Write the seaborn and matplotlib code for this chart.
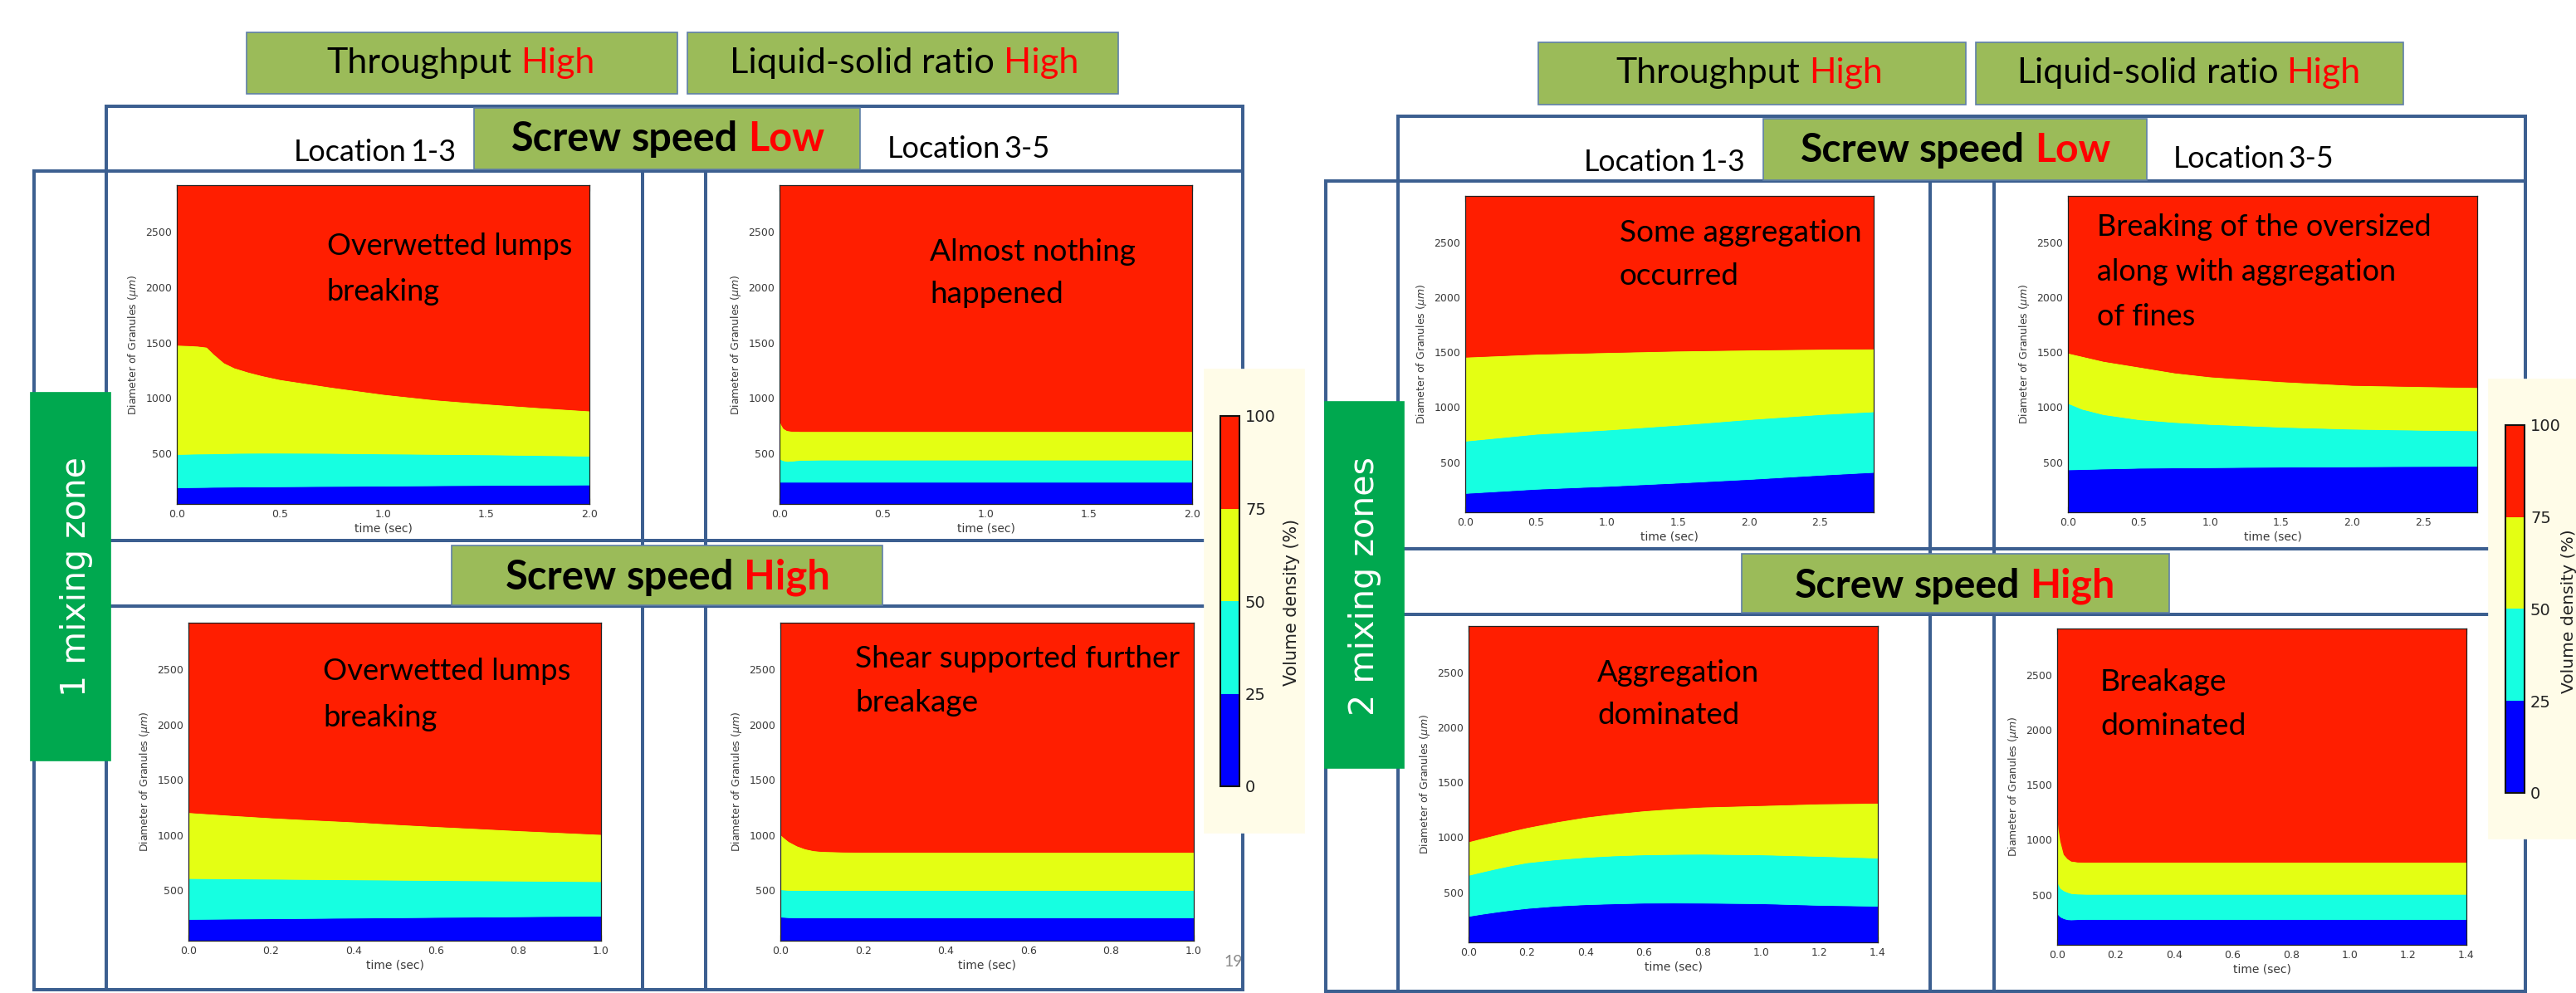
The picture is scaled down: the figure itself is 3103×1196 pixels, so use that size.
import numpy as np
import matplotlib
matplotlib.use("Agg")
import matplotlib.pyplot as plt
import seaborn as sns
from matplotlib.patches import Rectangle
from matplotlib.colors import ListedColormap, BoundaryNorm
from matplotlib.cm import ScalarMappable
from matplotlib.ticker import FormatStrFormatter
from matplotlib.font_manager import FontProperties

# ------------------------------------------------------------------ data
levels = [0, 25, 50, 75, 100]
level_labels = ["0", "25", "50", "75", "100"]
y_ticks = [500, 1000, 1500, 2000, 2500]
y_range = (45, 2920)

# slide 1 (1 mixing zone), screw speed Low, location 1-3
t_1 = [0, 0.05, 0.10, 0.145, 0.179, 0.229, 0.279, 0.346, 0.413, 0.5, 0.75, 1.0, 1.25, 1.5, 1.75, 2.0]
d25_1 = [195, 196, 197, 198, 199, 200, 201, 202, 203, 204, 207, 210, 213, 216, 218, 220]
d50_1 = [495, 497, 499, 500, 501, 503, 505, 506, 507, 507, 505, 500, 496, 492, 486, 480]
d75_1 = [1480, 1477, 1472, 1462, 1400, 1320, 1275, 1237, 1205, 1170, 1100, 1037, 987, 950, 917, 887]
# slide 1, screw speed Low, location 3-5
t_2 = [0, 0.01, 0.02, 0.036, 0.06, 0.1, 0.2, 0.5, 1.0, 1.5, 2.0]
d25_2 = [245, 245, 245, 245, 245, 245, 245, 245, 245, 245, 245]
d50_2 = [457, 445, 438, 432, 435, 442, 445, 445, 445, 445, 445]
d75_2 = [807, 760, 728, 710, 704, 702, 702, 702, 702, 702, 702]
# slide 1, screw speed High, location 1-3
t_3 = [0, 0.1, 0.2, 0.3, 0.4, 0.5, 0.6, 0.7, 0.8, 0.9, 1.0]
d25_3 = [241, 244, 247, 250, 253, 256, 259, 262, 265, 268, 270]
d50_3 = [611, 608, 605, 602, 599, 596, 593, 590, 588, 585, 582]
d75_3 = [1207, 1182, 1159, 1140, 1122, 1100, 1080, 1062, 1043, 1026, 1009]
# slide 1, screw speed High, location 3-5
t_4 = [0, 0.01, 0.02, 0.04, 0.06, 0.08, 0.1, 0.15, 0.2, 0.5, 1.0]
d25_4 = [262, 259, 257, 256, 256, 256, 256, 256, 256, 256, 256]
d50_4 = [510, 506, 504, 503, 503, 503, 503, 503, 503, 503, 503]
d75_4 = [1008, 975, 945, 905, 878, 862, 855, 850, 848, 847, 847]
# slide 2 (2 mixing zones), screw speed Low, location 1-3
t_5 = [0, 0.5, 1.0, 1.5, 2.0, 2.5, 2.88]
d25_5 = [220, 258, 284, 314, 347, 385, 411]
d50_5 = [695, 758, 796, 840, 891, 936, 962]
d75_5 = [1458, 1485, 1500, 1514, 1523, 1530, 1533]
# slide 2, screw speed Low, location 3-5
t_6 = [0, 0.1, 0.25, 0.5, 0.75, 1.0, 1.5, 2.0, 2.5, 2.88]
d25_6 = [434, 437, 442, 449, 452, 454, 459, 462, 465, 467]
d50_6 = [1038, 985, 936, 890, 865, 847, 822, 804, 794, 789]
d75_6 = [1495, 1465, 1420, 1368, 1315, 1279, 1235, 1202, 1190, 1182]
# slide 2, screw speed High, location 1-3
t_7 = [0, 0.05, 0.1, 0.15, 0.2, 0.3, 0.4, 0.5, 0.6, 0.7, 0.8, 1.0, 1.2, 1.4]
d25_7 = [285, 306, 325, 342, 357, 378, 391, 399, 405, 406, 405, 400, 385, 377]
d50_7 = [658, 690, 720, 748, 772, 800, 821, 835, 844, 848, 850, 844, 830, 815]
d75_7 = [963, 997, 1030, 1062, 1092, 1143, 1186, 1218, 1244, 1263, 1278, 1292, 1307, 1313]
# slide 2, screw speed High, location 3-5
t_8 = [0, 0.006, 0.012, 0.024, 0.036, 0.048, 0.07, 0.1, 0.5, 1.0, 1.4]
d25_8 = [337, 315, 300, 285, 277, 275, 278, 279, 279, 279, 279]
d50_8 = [638, 590, 560, 538, 525, 515, 510, 508, 508, 508, 508]
d75_8 = [1269, 1100, 990, 867, 830, 809, 801, 799, 799, 799, 799]

x_max = [2.0, 2.0, 1.0, 1.0, 2.88, 2.88, 1.4, 1.4]
x_ticks = [
    [0, 0.5, 1.0, 1.5, 2.0], [0, 0.5, 1.0, 1.5, 2.0],
    [0, 0.2, 0.4, 0.6, 0.8, 1.0], [0, 0.2, 0.4, 0.6, 0.8, 1.0],
    [0, 0.5, 1.0, 1.5, 2.0, 2.5], [0, 0.5, 1.0, 1.5, 2.0, 2.5],
    [0, 0.2, 0.4, 0.6, 0.8, 1.0, 1.2, 1.4], [0, 0.2, 0.4, 0.6, 0.8, 1.0, 1.2, 1.4],
]
panel_notes = [
    "Overwetted lumps\nbreaking", "Almost nothing\nhappened",
    "Overwetted lumps\nbreaking", "Shear supported further\nbreakage",
    "Some aggregation\noccurred", "Breaking of the oversized\nalong with aggregation\nof fines",
    "Aggregation\ndominated", "Breakage\ndominated",
]
zone_labels = ["1 mixing zone", "2 mixing zones"]
x_label = "time (sec)"
y_label = r"Diameter of Granules ($\mu m$)"
cbar_label = "Volume density (%)"

# ------------------------------------------------------------------ style
sns.set_theme(style="ticks")
plt.rcParams["font.family"] = ["DejaVu Sans"]
plt.rcParams["mathtext.fontset"] = "dejavusans"

W, H = 3103, 1196
fig = plt.figure(figsize=(W / 100, H / 100), dpi=100, facecolor="white")
renderer = fig.canvas.get_renderer()

jet = matplotlib.colormaps["jet"]
band_colors = sns.color_palette([jet(v) for v in (0.125, 0.375, 0.625, 0.875)])

LINE = "#3C5F90"
OLIVE = "#9BBB59"
GREEN = "#00A84F"
CREAM = "#FFFCE8"
RED = "#FF0000"
SLIDE_FONT = "Lato"


def fx(x):
    return x / W


def fy(y):
    return 1 - y / H


def add_ax(x0, y0, x1, y1, **kw):
    return fig.add_axes([fx(x0), fy(y1), (x1 - x0) / W, (y1 - y0) / H], **kw)


def measure(s, size, **kw):
    t = fig.text(0, 0, s, fontsize=size, **kw)
    bb = t.get_window_extent(renderer)
    t.remove()
    return bb.width, bb.height


def fit_parts(parts, x0, x1, yc, weight="normal", gap_em=0.23):
    ref = 20.0
    ws = [measure(s, ref, family=SLIDE_FONT, fontweight=weight)[0] for s, _ in parts]
    k = 100 / 72
    size = (x1 - x0) / (sum(ws) / ref + gap_em * k * (len(parts) - 1))
    x = x0
    for (s, c), w in zip(parts, ws):
        fig.text(fx(x), fy(yc), s, fontsize=size, color=c, family=SLIDE_FONT,
                 fontweight=weight, ha="left", va="center", zorder=5)
        x += w * size / ref + gap_em * size * k


def fit_block(text, x0, x1, ytop, sp):
    ref = 20.0
    w, _ = measure(text, ref, family=SLIDE_FONT)
    size = ref * (x1 - x0) / w
    fp = FontProperties(family=SLIDE_FONT, size=size)
    _, h, d = renderer.get_text_width_height_descent("lp", fp, ismath=False)
    fig.text(fx(x0), fy(ytop), text, fontsize=size, family=SLIDE_FONT, ha="left",
             va="top", linespacing=sp / (h - d), color="black", zorder=5)


def fit_rot(text, ytop, ybot, xc, family, color):
    ref = 20.0
    w, _ = measure(text, ref, family=family)
    size = ref * (ybot - ytop) / w
    fig.text(fx(xc), fy((ytop + ybot) / 2), text, rotation=90, fontsize=size,
             family=family, color=color, ha="center", va="center", zorder=5)


# ------------------------------------------------------------------ slide frame
bg = fig.add_axes([0, 0, 1, 1], zorder=0)
bg.set_xlim(0, W)
bg.set_ylim(H, 0)
bg.axis("off")


def hline(y, x0, x1):
    bg.plot([x0, x1], [y, y], color=LINE, lw=4 * 0.72, solid_capstyle="projecting", zorder=1)


def vline(x, y0, y1):
    bg.plot([x, x], [y0, y1], color=LINE, lw=4 * 0.72, solid_capstyle="projecting", zorder=1)


def box(x0, y0, x1, y1, color, edge=None):
    bg.add_patch(Rectangle((x0, y0), x1 - x0, y1 - y0, facecolor=color,
                           edgecolor=edge if edge else color, lw=1.2, zorder=3))


# page number (partly hidden under the frame line)
bg.text(1474, 1158, "19", color="#8a8a8a", fontsize=14, family=SLIDE_FONT, va="center", zorder=0.5)

# slide 1 frame
hline(128, 128, 1497)
hline(206, 41, 1497)
vline(128, 128, 1192)
vline(41, 206, 1192)
vline(1497, 128, 1192)
vline(774, 206, 1192)
vline(850, 206, 1192)
hline(651, 128, 1451)
hline(730, 128, 1451)
hline(1192, 41, 1497)
# slide 2 frame
hline(140, 1684, 3042)
hline(218, 1597, 3042)
vline(1684, 140, 1194)
vline(1597, 218, 1194)
vline(3042, 140, 1194)
vline(2325, 218, 1194)
vline(2402, 218, 1194)
hline(661, 1684, 2998)
hline(740, 1684, 2998)
hline(1194, 1597, 3042)

# colour-bar backgrounds
box(1451, 445, 1571, 1003, CREAM)
box(2998, 457, 3103, 1010, CREAM)

# olive header boxes
for b in [(297, 39, 816, 113), (828, 39, 1347, 113), (571, 130, 1036, 204), (544, 657, 1063, 729),
          (1853, 51, 2368, 126), (2380, 51, 2895, 126), (2124, 143, 2586, 217), (2098, 667, 2613, 738)]:
    box(*b, OLIVE, edge="#5F7FA8")
# green zone boxes
box(37, 473, 133, 916, GREEN)
box(1596, 484, 1691, 925, GREEN)

# header texts
fit_parts([("Throughput", "black"), ("High", RED)], 393, 717, 76)
fit_parts([("Liquid-solid", "black"), ("ratio", "black"), ("High", RED)], 879, 1299, 76)
fit_parts([("Screw", "black"), ("speed", "black"), ("Low", RED)], 616, 993, 168, weight="bold")
fit_parts([("Screw", "black"), ("speed", "black"), ("High", RED)], 609, 1000, 695, weight="bold")
fit_parts([("Location", "black"), ("1-3", "black")], 354, 549, 183, gap_em=0.12)
fit_parts([("Location", "black"), ("3-5", "black")], 1069, 1265, 180, gap_em=0.12)

fit_parts([("Throughput", "black"), ("High", RED)], 1946, 2268, 88)
fit_parts([("Liquid-solid", "black"), ("ratio", "black"), ("High", RED)], 2429, 2844, 88)
fit_parts([("Screw", "black"), ("speed", "black"), ("Low", RED)], 2169, 2542, 181, weight="bold")
fit_parts([("Screw", "black"), ("speed", "black"), ("High", RED)], 2162, 2547, 706, weight="bold")
fit_parts([("Location", "black"), ("1-3", "black")], 1908, 2102, 195, gap_em=0.12)
fit_parts([("Location", "black"), ("3-5", "black")], 2618, 2811, 192, gap_em=0.12)

fit_rot(zone_labels[0], 550, 839, 92, "DejaVu Sans", "white")
fit_rot(zone_labels[1], 550, 862, 1644, "DejaVu Sans", "white")

# ------------------------------------------------------------------ panels
panel_boxes = [
    (213, 223, 710, 607), (939, 223, 1436, 607),
    (227, 750, 724, 1133), (940, 750, 1438, 1133),
    (1765, 236, 2257, 617), (2491, 236, 2984, 617),
    (1769, 754, 2262, 1135), (2478, 757, 2971, 1138),
]
series = [
    (t_1, d25_1, d50_1, d75_1), (t_2, d25_2, d50_2, d75_2),
    (t_3, d25_3, d50_3, d75_3), (t_4, d25_4, d50_4, d75_4),
    (t_5, d25_5, d50_5, d75_5), (t_6, d25_6, d50_6, d75_6),
    (t_7, d25_7, d50_7, d75_7), (t_8, d25_8, d50_8, d75_8),
]

for i, (pb, (t, d25, d50, d75)) in enumerate(zip(panel_boxes, series)):
    ax = add_ax(*pb, zorder=2)
    t = np.asarray(t, float)
    lo = np.full(len(t), y_range[0], float)
    hi = np.full(len(t), y_range[1], float)
    bounds = [lo, np.asarray(d25, float), np.asarray(d50, float), np.asarray(d75, float), hi]
    for k in range(4):
        ax.fill_between(t, bounds[k], bounds[k + 1], facecolor=band_colors[k],
                        edgecolor=band_colors[k], lw=0.6, zorder=1)
    for k in range(1, 4):
        sns.lineplot(x=t, y=bounds[k], ax=ax, color=band_colors[k], lw=0.8, zorder=1.5,
                     estimator=None, sort=False, legend=False)
    ax.set_xlim(0, x_max[i])
    ax.set_ylim(*y_range)
    ax.set_xticks(x_ticks[i])
    ax.set_yticks(y_ticks)
    ax.xaxis.set_major_formatter(FormatStrFormatter("%.1f"))
    ax.tick_params(direction="in", top=True, right=True, length=5, width=0.8,
                   color="#222222", labelcolor="#3a3a3a", labelsize=9, pad=4)
    for sp in ax.spines.values():
        sp.set_visible(True)
        sp.set_color("#222222")
        sp.set_linewidth(0.9)
    ax.set_xlabel(x_label, fontsize=10, color="#3a3a3a", labelpad=3)
    ax.set_ylabel(y_label, fontsize=9, color="#3a3a3a", labelpad=5)
    ax.grid(False)

# panel annotations
fit_block(panel_notes[0], 394, 691, 280, 49)
fit_block(panel_notes[1], 1120, 1369, 287, 45)
fit_block(panel_notes[2], 389, 688, 792, 50)
fit_block(panel_notes[3], 1030, 1423, 777, 47)
fit_block(panel_notes[4], 1951, 2243, 264, 46)
fit_block(panel_notes[5], 2526, 2929, 257, 48)
fit_block(panel_notes[6], 1924, 2119, 794, 45)
fit_block(panel_notes[7], 2530, 2706, 805, 47)

# ------------------------------------------------------------------ colour bars
cmap = ListedColormap(list(band_colors))
norm = BoundaryNorm(levels, cmap.N)
for (cx0, cy0, cx1, cy1), lab_x, lab_y in [((1470, 501, 1493, 947), 1556, (625, 826)),
                                            ((3018, 512, 3041, 955), 3095, (638, 835))]:
    cax = add_ax(cx0, cy0, cx1, cy1, zorder=3)
    cb = fig.colorbar(ScalarMappable(norm=norm, cmap=cmap), cax=cax, ticks=levels)
    cb.ax.set_yticklabels(level_labels)
    cb.ax.tick_params(length=0, pad=5, labelsize=14, labelcolor="#222222")
    cb.outline.set_edgecolor("#111111")
    cb.outline.set_linewidth(1.5)
    fit_rot(cbar_label, lab_y[0], lab_y[1], lab_x, "DejaVu Sans", "#222222")

fig.savefig("out.png", dpi=100, facecolor="white")
